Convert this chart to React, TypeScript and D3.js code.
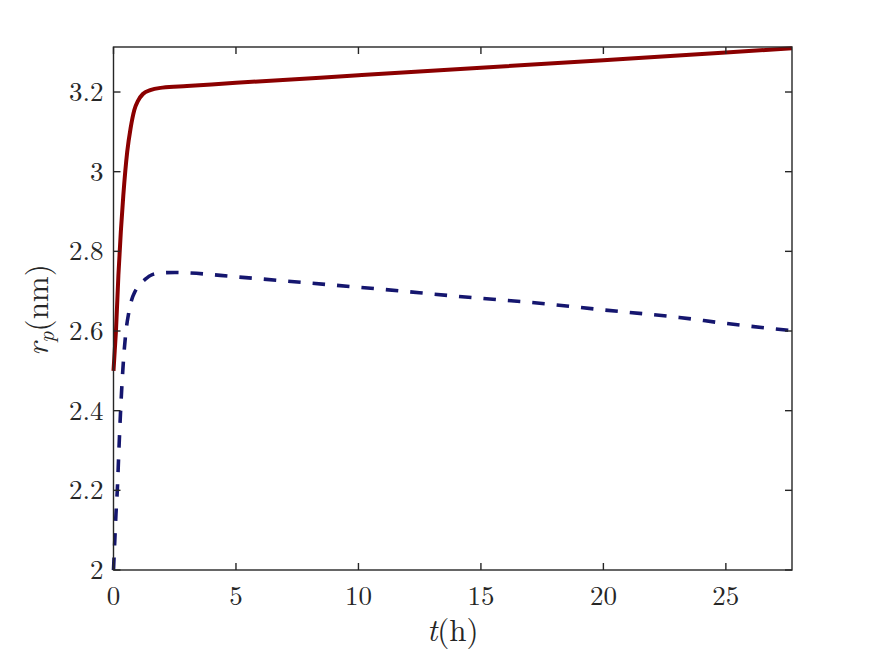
import React from "react";
import * as d3 from "d3";

// Pore radius over time for the two cases (t in hours, r_p in nm)
const timeRed = [0, 0.05, 0.1, 0.2, 0.3, 0.4, 0.56, 0.7, 0.85, 1.0, 1.2, 1.5, 2.0, 3, 5, 10, 15, 20, 25, 27.7];
const radiusRed = [2.5, 2.55, 2.6, 2.74, 2.85, 2.94, 3.05, 3.11, 3.155, 3.178, 3.195, 3.205, 3.211, 3.215, 3.223, 3.242, 3.261, 3.28, 3.299, 3.31];

const timeBlue = [0, 0.05, 0.1, 0.155, 0.22, 0.29, 0.4, 0.51, 0.62, 0.74, 0.87, 1.0, 1.3, 1.56, 2.0, 2.5, 3, 5, 8.84, 10, 15, 17, 20, 23.1, 25, 27.7];
const radiusBlue = [2.0, 2.07, 2.14, 2.2, 2.3, 2.4, 2.52, 2.6, 2.645, 2.678, 2.698, 2.711, 2.73, 2.741, 2.746, 2.747, 2.746, 2.736, 2.716, 2.71, 2.682, 2.672, 2.653, 2.634, 2.619, 2.601];

const xTicks = [0, 5, 10, 15, 20, 25];
const yTicks = [2, 2.2, 2.4, 2.6, 2.8, 3, 3.2];
const yTickLabels = ["2", "2.2", "2.4", "2.6", "2.8", "3", "3.2"];

const W = 875;
const H = 657;
const left = 113.5;
const right = 792;
const top = 47;
const bottom = 570;

const axisColor = "#262626";
const font = "'Latin Modern Roman', 'CMU Serif', 'Liberation Serif', 'DejaVu Serif', serif";

export default function App() {
  const x = d3.scaleLinear().domain([0, 27.7]).range([left, right]);
  const y = d3.scaleLinear().domain([2, 3.313]).range([bottom, top]);

  const line = d3
    .line<[number, number]>()
    .x((d) => x(d[0]))
    .y((d) => y(d[1]))
    .curve(d3.curveMonotoneX);

  const redPts = timeRed.map((t, i) => [t, radiusRed[i]] as [number, number]);
  const bluePts = timeBlue.map((t, i) => [t, radiusBlue[i]] as [number, number]);

  const tickLen = 7;

  return (
    <svg
      width={W}
      height={H}
      style={{ position: "absolute", left: 0, top: 0, background: "#fff" }}
      fontFamily={font}
    >
      <rect x={0} y={0} width={W} height={H} fill="#fff" />
      <defs>
        <clipPath id="plotArea">
          <rect x={left - 3} y={top - 3} width={right - left + 6} height={bottom - top + 6} />
        </clipPath>
      </defs>

      {/* data */}
      <g clipPath="url(#plotArea)">
        <path
          d={line(bluePts) || ""}
          fill="none"
          stroke="#15166f"
          strokeWidth={3.6}
          strokeDasharray="12.5 12"
        />
        <path d={line(redPts) || ""} fill="none" stroke="#8b0000" strokeWidth={4} />
      </g>

      {/* box */}
      <rect
        x={left}
        y={top}
        width={right - left}
        height={bottom - top}
        fill="none"
        stroke={axisColor}
        strokeWidth={1.4}
      />

      {/* x ticks (bottom and top) */}
      {xTicks.map((t) => (
        <g key={"x" + t}>
          <line x1={x(t)} x2={x(t)} y1={bottom} y2={bottom - tickLen} stroke={axisColor} strokeWidth={1.4} />
          <line x1={x(t)} x2={x(t)} y1={top} y2={top + tickLen} stroke={axisColor} strokeWidth={1.4} />
          <text x={x(t)} y={605} textAnchor="middle" fontSize={27} fill={axisColor}>
            {t}
          </text>
        </g>
      ))}

      {/* y ticks (left and right) */}
      {yTicks.map((v, i) => (
        <g key={"y" + v}>
          <line x1={left} x2={left + tickLen} y1={y(v)} y2={y(v)} stroke={axisColor} strokeWidth={1.4} />
          <line x1={right} x2={right - tickLen} y1={y(v)} y2={y(v)} stroke={axisColor} strokeWidth={1.4} />
          <text x={left - 10} y={y(v) + 9} textAnchor="end" fontSize={27} fill={axisColor}>
            {yTickLabels[i]}
          </text>
        </g>
      ))}

      {/* axis labels */}
      <text x={(left + right) / 2} y={641} textAnchor="middle" fontSize={31} fill={axisColor}>
        <tspan fontStyle="italic">t</tspan>
        <tspan>(h)</tspan>
      </text>
      <text
        transform={`translate(48, 310) rotate(-90)`}
        textAnchor="middle"
        fontSize={31}
        fill={axisColor}
      >
        <tspan fontStyle="italic">r</tspan>
        <tspan fontStyle="italic" fontSize={22} dy={6}>p</tspan>
        <tspan dy={-6}>(nm)</tspan>
      </text>
    </svg>
  );
}
